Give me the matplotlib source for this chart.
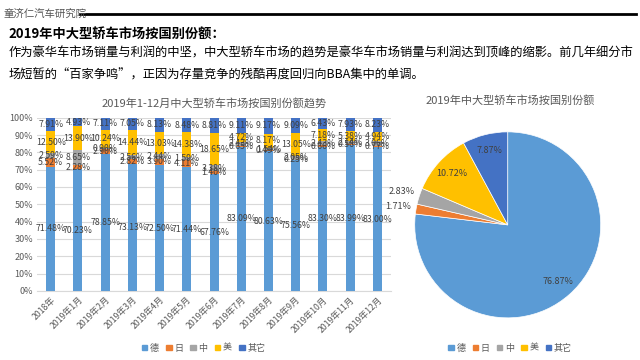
import numpy as np
import matplotlib.pyplot as plt
from matplotlib.patches import Patch

plt.rcParams['font.family'] = ['Noto Sans CJK SC', 'DejaVu Sans']

months = ['2018年'] + ['2019年%d月' % m for m in range(1, 13)]
series = ['德', '日', '中', '美', '其它']
colors = ['#5B9BD5', '#ED7D31', '#A5A5A5', '#FFC000', '#4472C4']

de = [71.48, 70.23, 78.85, 73.13, 72.50, 71.44, 67.76, 83.09, 80.63, 75.56, 83.30, 83.99, 83.00]
jp = [5.52, 2.28, 2.90, 2.82, 3.90, 4.11, 1.40, 0.65, 0.49, 0.25, 0.66, 0.56, 0.77]
cn = [2.59, 8.65, 0.90, 2.56, 2.44, 1.59, 3.38, 2.43, 1.54, 2.05, 2.43, 2.14, 3.06]
us = [12.50, 13.90, 10.24, 14.44, 13.03, 14.38, 18.65, 4.72, 8.17, 13.05, 7.18, 5.38, 4.94]
other = [7.91, 4.93, 7.11, 7.05, 8.13, 8.48, 8.81, 9.11, 9.17, 9.09, 6.43, 7.93, 8.23]

pie_vals = [76.87, 1.71, 2.83, 10.72, 7.87]

txt_gray = '#595959'
lbl_gray = '#404040'

fig = plt.figure(figsize=(6.4, 3.6), dpi=100)

# header
fig.text(0.005, 0.962, '童济仁汽车研究院', fontsize=7.5, color='#555555', va='center')
fig.add_artist(plt.Line2D([0.125, 0.994], [0.962, 0.962], color='black', lw=2))
fig.text(0.013, 0.905, '2019年中大型轿车市场按国别份额：', fontsize=9.5, weight='bold', va='center')
fig.text(0.013, 0.852, '作为豪华车市场销量与利润的中坚，中大型轿车市场的趋势是豪华车市场销量与利润达到顶峰的缩影。前几年细分市',
         fontsize=8.85, va='center')
fig.text(0.013, 0.792, '场短暂的“百家争鸣”，正因为存量竞争的残酷再度回归向BBA集中的单调。',
         fontsize=8.85, va='center')

# stacked bar chart
ax = fig.add_axes([0.058, 0.192, 0.553, 0.481])
x = np.arange(len(months))
bottom = np.zeros(len(months))
for name, vals, c in zip(series, [de, jp, cn, us, other], colors):
    bars = ax.bar(x, vals, 0.33, bottom=bottom, color=c, zorder=3)
    ax.bar_label(bars, labels=['%.2f%%' % v for v in vals], label_type='center',
                 fontsize=6.3, color=lbl_gray, zorder=4)
    bottom += np.array(vals)

ax.set_xlim(-0.5, len(months) - 0.5)
ax.set_ylim(0, 100)
ax.set_yticks(np.arange(0, 101, 10))
ax.set_yticklabels(['%d%%' % v for v in range(0, 101, 10)], fontsize=6.5, color=txt_gray)
ax.set_xticks(x)
ax.set_xticklabels(months, rotation=45, ha='right', rotation_mode='anchor', fontsize=6.3, color=txt_gray)
ax.tick_params(length=0, pad=3)
ax.grid(axis='y', color='#D9D9D9', lw=0.8, zorder=0)
for s in ['top', 'right', 'left']:
    ax.spines[s].set_visible(False)
ax.spines['bottom'].set_color('#D9D9D9')
ax.set_title('2019年1-12月中大型轿车市场按国别份额趋势', fontsize=8, color=txt_gray, pad=8)

handles = [Patch(color=c, label=s) for s, c in zip(series, colors)]
fig.legend(handles=handles, loc='center', bbox_to_anchor=(0.318, 0.033), ncol=5, frameon=False,
           fontsize=6.5, handlelength=0.6, handleheight=0.6, handletextpad=0.3, columnspacing=0.8,
           labelcolor=txt_gray)

# pie chart
pax = fig.add_axes([0.648, 0.117, 0.2906, 0.5167])
wedges, texts, autotexts = pax.pie(pie_vals, colors=colors, startangle=90, counterclock=False,
                                   autopct='%.2f%%', pctdistance=0.82,
                                   textprops={'fontsize': 6.5, 'color': lbl_gray},
                                   wedgeprops={'edgecolor': 'white', 'linewidth': 0.5})
for w, t, v in zip(wedges, autotexts, pie_vals):
    if v < 5:
        ang = np.deg2rad((w.theta1 + w.theta2) / 2)
        t.set_position((1.2 * np.cos(ang), 1.16 * np.sin(ang)))
pax.set_xlim(-1, 1)
pax.set_ylim(-1, 1)
pax.set_aspect('equal')
fig.text(0.797, 0.72, '2019年中大型轿车市场按国别份额', fontsize=8, color=txt_gray, ha='center', va='center')
fig.legend(handles=handles, loc='center', bbox_to_anchor=(0.797, 0.033), ncol=5, frameon=False,
           fontsize=6.5, handlelength=0.6, handleheight=0.6, handletextpad=0.3, columnspacing=0.8,
           labelcolor=txt_gray)

plt.savefig('out.png', dpi=100)
